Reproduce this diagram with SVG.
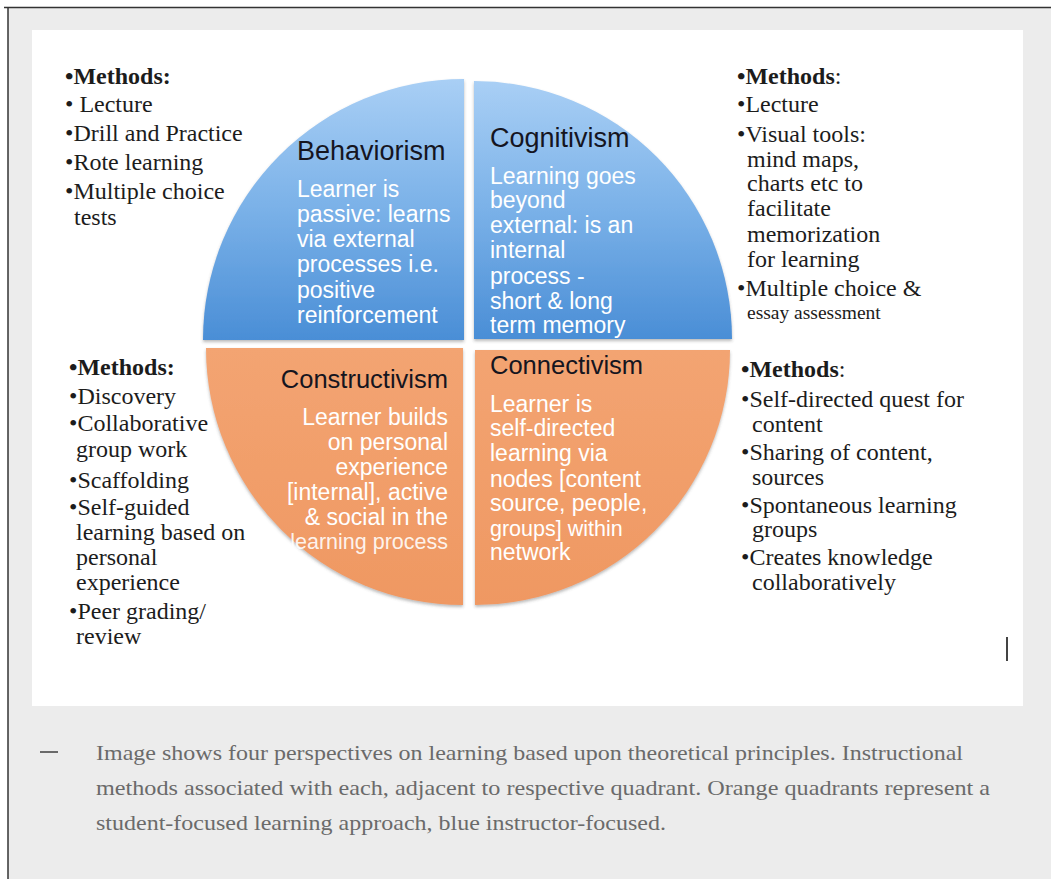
<svg xmlns="http://www.w3.org/2000/svg" width="1051" height="883" viewBox="0 0 1051 883">
<style>
.side{font-family:"Liberation Serif","Times New Roman",serif;font-size:24px;fill:#1c1c1c}
.b{font-weight:bold}
.head{font-family:"Liberation Sans",Arial,sans-serif;fill:#15151f}
.body{font-family:"Liberation Sans",Arial,sans-serif;font-size:23px;fill:#ffffff}
.cap{font-family:"Liberation Serif","Times New Roman",serif;font-size:21px;fill:#6a6a6a}
</style>
<defs>
<linearGradient id="blue" x1="0" y1="0" x2="0" y2="1">
<stop offset="0" stop-color="#a9cff5"/>
<stop offset="0.5" stop-color="#7ab1e8"/>
<stop offset="1" stop-color="#4a8ed6"/>
</linearGradient>
<linearGradient id="orange" x1="0" y1="0" x2="0" y2="1">
<stop offset="0" stop-color="#f3a472"/>
<stop offset="1" stop-color="#ef9862"/>
</linearGradient>
<filter id="sh" x="-5%" y="-5%" width="110%" height="110%">
<feDropShadow dx="0" dy="2" stdDeviation="1.5" flood-color="#555" flood-opacity="0.4"/>
</filter>
</defs>
<rect x="0" y="0" width="1051" height="883" fill="#ffffff"/>
<rect x="8" y="7" width="1043" height="872" fill="#ececec"/>
<line x1="4" y1="7.5" x2="1051" y2="7.5" stroke="#333" stroke-width="1.5"/>
<line x1="8" y1="7" x2="8" y2="879" stroke="#333" stroke-width="1.5"/>
<rect x="32" y="30" width="991" height="676" fill="#ffffff"/>

<g id="behaviorism">
<path d="M464,340 L203,340 A261,261 0 0 1 464,79 Z" fill="url(#blue)" filter="url(#sh)"/>
<text class="head" x="297" y="160" font-size="27">Behaviorism</text>
<text class="body" x="297"><tspan x="297" y="197">Learner is</tspan><tspan x="297" y="222">passive: learns</tspan><tspan x="297" y="247">via external</tspan><tspan x="297" y="272">processes i.e.</tspan><tspan x="297" y="298">positive</tspan><tspan x="297" y="323">reinforcement</tspan></text>
</g>

<g id="cognitivism">
<path d="M474,339 L474,81 A258,258 0 0 1 732,339 Z" fill="url(#blue)" filter="url(#sh)"/>
<text class="head" x="490" y="147" font-size="27">Cognitivism</text>
<text class="body"><tspan x="490" y="184">Learning goes</tspan><tspan x="490" y="208">beyond</tspan><tspan x="490" y="233">external: is an</tspan><tspan x="490" y="258">internal</tspan><tspan x="490" y="284">process -</tspan><tspan x="490" y="309">short &amp; long</tspan><tspan x="490" y="333">term  memory</tspan></text>
</g>

<g id="constructivism">
<path d="M463,348 L463,605 A257,257 0 0 1 206,348 Z" fill="url(#orange)" filter="url(#sh)"/>
<text class="head" x="448" y="388" font-size="25.5" text-anchor="end">Constructivism</text>
<text class="body" text-anchor="end"><tspan x="448" y="425">Learner builds</tspan><tspan x="448" y="450">on personal</tspan><tspan x="448" y="475">experience</tspan><tspan x="448" y="500">[internal], active</tspan><tspan x="448" y="525">&amp; social in the</tspan><tspan x="448" y="549" font-size="21.5" fill-opacity="0.9">learning process</tspan></text>
</g>

<g id="connectivism">
<path d="M475,350 L730,350 A255,255 0 0 1 475,605 Z" fill="url(#orange)" filter="url(#sh)"/>
<text class="head" x="490" y="374" font-size="25.5">Connectivism</text>
<text class="body"><tspan x="490" y="412">Learner is</tspan><tspan x="490" y="436">self-directed</tspan><tspan x="490" y="461">learning via</tspan><tspan x="490" y="487">nodes [content</tspan><tspan x="490" y="511">source, people,</tspan><tspan x="490" y="536" font-size="21.5">groups] within</tspan><tspan x="490" y="560">network</tspan></text>
</g>

<g id="methods-behaviorism">
<text class="side"><tspan x="65" y="84" class="b">•Methods</tspan><tspan class="b">:</tspan><tspan x="65" y="112">• Lecture</tspan><tspan x="65" y="141">•Drill and Practice</tspan><tspan x="65" y="170">•Rote learning</tspan><tspan x="65" y="199">•Multiple choice</tspan><tspan x="74" y="225">tests</tspan></text>
</g>

<g id="methods-cognitivism">
<text class="side"><tspan x="737" y="84" class="b">•Methods</tspan><tspan>:</tspan><tspan x="737" y="112">•Lecture</tspan><tspan x="737" y="142">•Visual tools:</tspan><tspan x="747" y="167">mind maps,</tspan><tspan x="747" y="191">charts etc to</tspan><tspan x="747" y="216">facilitate</tspan><tspan x="747" y="242">memorization</tspan><tspan x="747" y="267">for learning</tspan><tspan x="737" y="296">•Multiple choice &amp;</tspan><tspan x="747" y="319" font-size="19.5">essay assessment</tspan></text>
</g>

<g id="methods-constructivism">
<text class="side"><tspan x="69" y="375" class="b">•Methods:</tspan><tspan x="69" y="404">•Discovery</tspan><tspan x="69" y="431">•Collaborative</tspan><tspan x="76" y="457">group work</tspan><tspan x="69" y="488">•Scaffolding</tspan><tspan x="69" y="515">•Self-guided</tspan><tspan x="76" y="540">learning based on</tspan><tspan x="76" y="565">personal</tspan><tspan x="76" y="590">experience</tspan><tspan x="69" y="619">•Peer grading/</tspan><tspan x="76" y="644">review</tspan></text>
</g>

<g id="methods-connectivism">
<text class="side"><tspan x="741" y="377" class="b">•Methods</tspan><tspan>:</tspan><tspan x="741" y="407">•Self-directed quest for</tspan><tspan x="752" y="432">content</tspan><tspan x="741" y="460">•Sharing of content,</tspan><tspan x="752" y="485">sources</tspan><tspan x="741" y="513">•Spontaneous learning</tspan><tspan x="752" y="537">groups</tspan><tspan x="741" y="565">•Creates knowledge</tspan><tspan x="752" y="590">collaboratively</tspan></text>
</g>

<line x1="1007" y1="637" x2="1007" y2="661" stroke="#444" stroke-width="2"/>

<g id="connectors"/>

<g id="caption">
<line x1="40" y1="752" x2="58" y2="752" stroke="#6a6a6a" stroke-width="2"/>
<text class="cap" x="96" y="760" textLength="867" lengthAdjust="spacingAndGlyphs">Image shows four perspectives on learning based upon theoretical principles. Instructional</text>
<text class="cap" x="96" y="795" textLength="894" lengthAdjust="spacingAndGlyphs">methods associated with each, adjacent to respective quadrant. Orange quadrants represent a</text>
<text class="cap" x="96" y="830" textLength="570" lengthAdjust="spacingAndGlyphs">student-focused learning approach, blue instructor-focused.</text>
</g>
</svg>
